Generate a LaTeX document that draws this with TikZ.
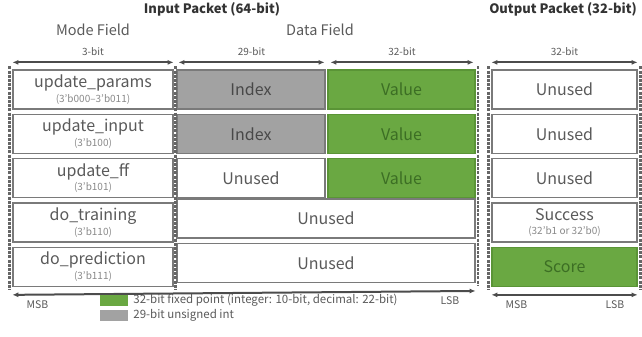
\documentclass[tikz,border=0pt]{standalone}
\usepackage{fontspec}
\setmainfont{Noto Sans CJK JP}
\usetikzlibrary{arrows.meta,positioning}

\definecolor{txtgray}{HTML}{5A5A5A}
\definecolor{subgray}{HTML}{8A8A8A}
\definecolor{boxline}{HTML}{7A7A7A}
\definecolor{fixgreen}{HTML}{6AA842}
\definecolor{fixgreenline}{HTML}{5A9436}
\definecolor{fixgreentxt}{HTML}{3C6E24}
\definecolor{idxgray}{HTML}{A2A2A2}

\newcommand{\lbl}[2]{#1\\[-1.5pt]{\fontsize{10}{10}\selectfont\color{subgray}#2}}

\begin{document}
\begin{tikzpicture}[
    x=1pt, y=-1pt,
    field/.style={draw=boxline, line width=1.3pt, fill=white, minimum height=39pt,
      inner sep=0pt, align=center, text=txtgray, font=\fontsize{16}{16}\selectfont},
    mode/.style={field, minimum width=160pt},
    idx/.style={field, minimum width=148pt, fill=idxgray, text=txtgray!80!black},
    val/.style={field, minimum width=147pt, fill=fixgreen, draw=fixgreenline, text=fixgreentxt},
    wide/.style={field, minimum width=298pt},
    outp/.style={field, minimum width=145pt},
    sep/.style={draw=black!60, line width=2.6pt, dash pattern=on 3pt off 1.2pt},
    dim/.style={{Latex[length=6pt,width=5pt]}-{Latex[length=6pt,width=5pt]}, draw=black!70, line width=2pt},
    bits/.style={font=\fontsize{10}{10}\selectfont, text=txtgray},
    head/.style={font=\fontsize{13}{13}\selectfont\bfseries, text=black!80},
    sub/.style={font=\fontsize{14.5}{15}\selectfont, text=txtgray},
    end/.style={font=\fontsize{10.5}{11}\selectfont, text=txtgray},
    keytxt/.style={font=\fontsize{11.5}{12}\selectfont, text=txtgray, inner sep=0pt},
    key/.style={minimum width=28pt, minimum height=11pt, inner sep=0pt}
  ]
    \useasboundingbox (0,0) rectangle (642,337);

    % input packet rows
    \node[mode] (m1) at (93,89.5) {\lbl{update\_params}{(3'b000--3'b011)}};
    \node[mode, below=4pt of m1] (m2) {\lbl{update\_input}{(3'b100)}};
    \node[mode, below=4pt of m2] (m3) {\lbl{update\_f{}f}{(3'b101)}};
    \node[mode, below=4pt of m3] (m4) {\lbl{do\_training}{(3'b110)}};
    \node[mode, below=4pt of m4] (m5) {\lbl{do\_prediction}{(3'b111)}};

    \node[idx] (i1) at (251,89.5) {Index};
    \node[idx, below=4pt of i1] (i2) {Index};
    \node[field, minimum width=148pt, below=4pt of i2] (i3) {Unused};

    \node[val] (v1) at (401.5,89.5) {Value};
    \node[val, below=4pt of v1] (v2) {Value};
    \node[val, below=4pt of v2] (v3) {Value};

    \node[wide] (u4) at (326,218.5) {Unused};
    \node[wide, below=4pt of u4] (u5) {Unused};

    % output packet rows
    \node[outp] (o1) at (564.5,89.5) {Unused};
    \node[outp, below=4pt of o1] (o2) {Unused};
    \node[outp, below=4pt of o2] (o3) {Unused};
    \node[outp, below=4pt of o3] (o4) {\lbl{Success}{(32'b1 or 32'b0)}};
    \node[outp, below=4pt of o4, fill=fixgreen, draw=fixgreenline, text=fixgreentxt] (o5) {Score};

    % dashed packet borders
    \draw[sep] ([xshift=-3pt,yshift=3pt]m1.north west) -- ([xshift=-3pt,yshift=-3pt]m5.south west);
    \draw[sep] ([xshift=2pt,yshift=3pt]m1.north east) -- ([xshift=2pt,yshift=-3pt]m5.south east);
    \draw[sep] ([xshift=2.5pt,yshift=3pt]v1.north east) -- ([xshift=2.5pt,yshift=-3pt]u5.south east);
    \draw[sep] ([xshift=-3pt,yshift=3pt]o1.north west) -- ([xshift=-3pt,yshift=-3pt]o5.south west);
    \draw[sep] ([xshift=3pt,yshift=3pt]o1.north east) -- ([xshift=3pt,yshift=-3pt]o5.south east);

    % field widths
    \draw[dim] ([yshift=7pt]m1.north west) -- node[bits, above=2pt] {3-bit} ([yshift=7pt]m1.north east);
    \draw[dim] ([xshift=2pt,yshift=7pt]i1.north west) -- node[bits, above=2pt] {29-bit} ([xshift=-1pt,yshift=7pt]i1.north east);
    \draw[dim] ([xshift=3pt,yshift=7pt]v1.north west) -- node[bits, above=2pt] {32-bit} ([xshift=-2pt,yshift=7pt]v1.north east);
    \draw[dim] ([yshift=7pt]o1.north west) -- node[bits, above=2pt] {32-bit} ([yshift=7pt]o1.north east);

    \node[sub] (modehd) at (93,30) {Mode Field};
    \node[sub] (datahd) at (320,30) {Data Field};
    \node[head] (inhd) at (212,9) {Input Packet (64-bit)};
    \node[head] (outhd) at (563,9) {Output Packet (32-bit)};

    % bit order
    \draw[dim] ([yshift=-8pt]m5.south west) -- ([yshift=-8pt]u5.south east)
      node[end, pos=0, below right=1pt and 10pt] (msbin) {MSB}
      node[end, pos=1, below left=1pt and 12pt] (lsbin) {LSB};
    \draw[dim] ([yshift=-8pt]o5.south west) -- ([yshift=-8pt]o5.south east)
      node[end, pos=0, below right=1pt and 10pt] (msbout) {MSB}
      node[end, pos=1, below left=1pt and 9pt] (lsbout) {LSB};

    % legend
    \node[key, fill=fixgreen] (kfix) at (114,300) {};
    \node[key, fill=idxgray, below=4pt of kfix] (kidx) {};
    \node[keytxt, right=5pt of kfix] {32-bit fixed point (integer: 10-bit, decimal: 22-bit)};
    \node[keytxt, right=5pt of kidx] {29-bit unsigned int};
  \end{tikzpicture}
\end{document}
